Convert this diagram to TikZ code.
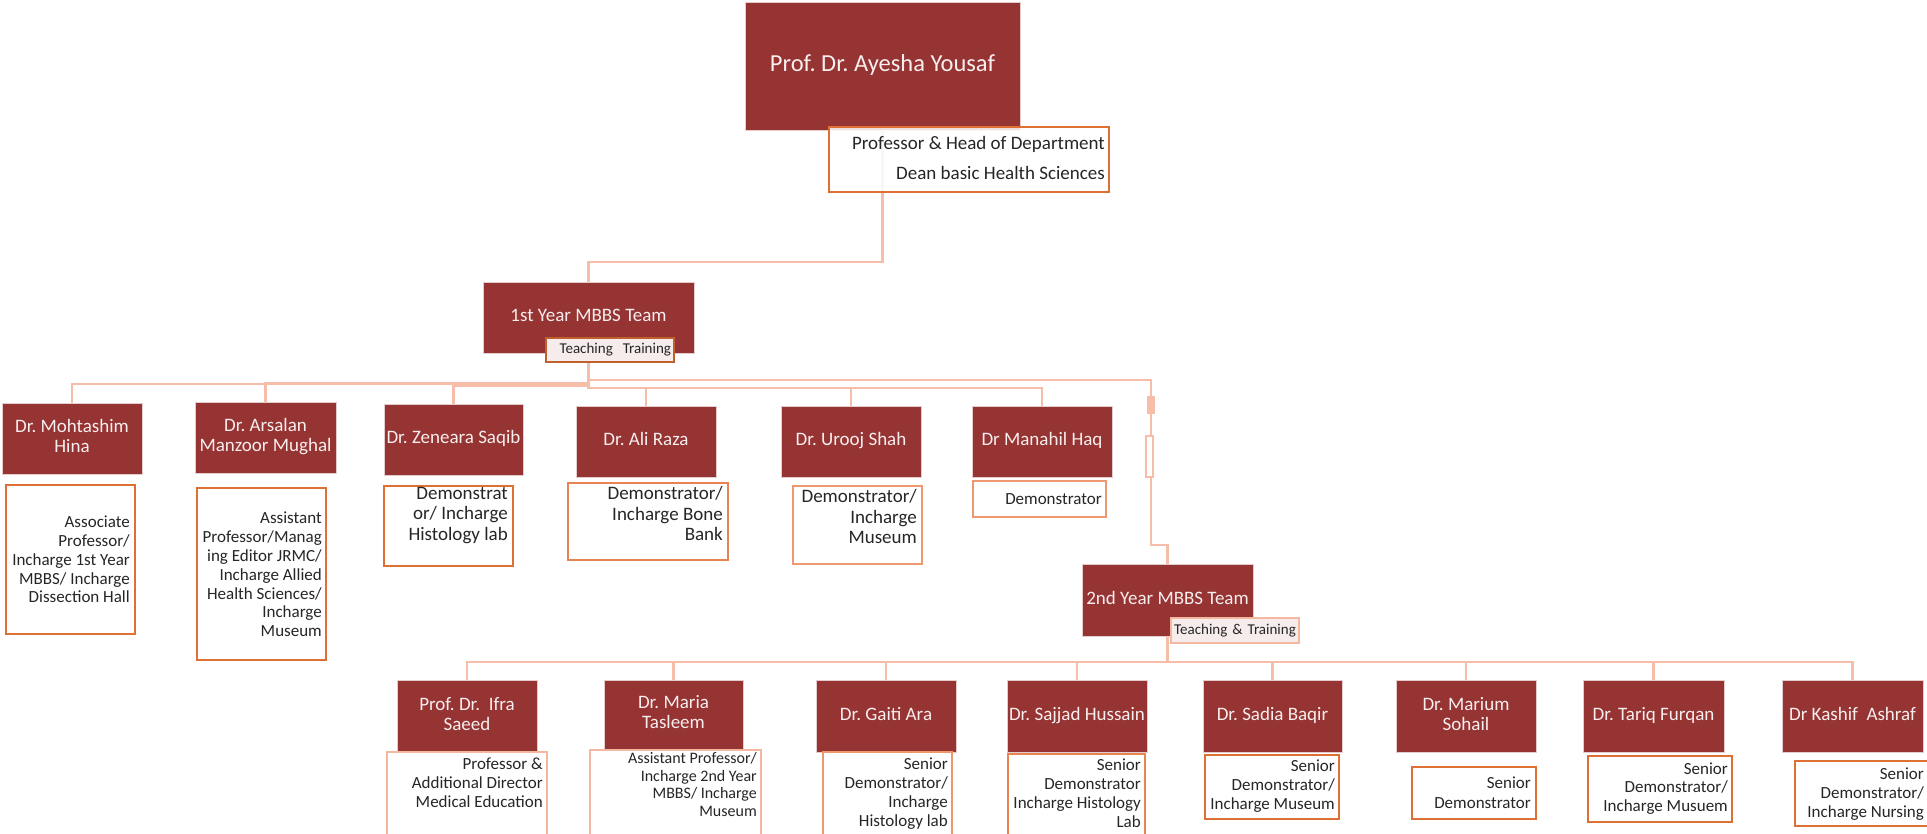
\documentclass[tikz,border=0pt]{standalone}
\usepackage{fontspec}
\setmainfont{Carlito}
\frenchspacing
\pgfdeclarelayer{bg}
\pgfsetlayers{bg,main}
\definecolor{boxred}{RGB}{150,51,51}
\definecolor{nametext}{RGB}{248,238,238}
\definecolor{dtext}{RGB}{38,38,38}
\definecolor{connc}{RGB}{246,190,168}
\definecolor{orA}{RGB}{222,112,52}
\definecolor{orB}{RGB}{232,132,82}
\definecolor{orC}{RGB}{238,152,112}
\definecolor{orD}{RGB}{244,184,160}
\definecolor{brn}{RGB}{192,96,44}
\definecolor{ttfill}{RGB}{246,236,236}
\tikzset{
 namebox/.style={fill=boxred, draw=boxred!25!white, line width=0.6pt, text=nametext, align=center, inner sep=0pt, font=\fontsize{19}{20}\selectfont},
 descbox/.style={fill=white, line width=2.4pt, inner sep=0pt},
 desctext/.style={text=dtext, align=right, inner sep=0pt, anchor=east},
 ttbox/.style={fill=ttfill, line width=2pt, inner xsep=3pt, inner ysep=0pt, text width=122pt, text=dtext, font=\fontsize{15}{17}\selectfont},
 link/.style={draw=connc, line width=2.2pt},
}
% name box: name, x1, y1, x2, y2, raise, text
\newcommand\NameBox[7]{%
 \node[namebox, minimum width={(#4)-(#2)}, minimum height={(#5)-(#3)}] (#1) at ({(#2+#4)/2},{(#3+#5)/2}) {\raisebox{#6pt}{\begin{tabular}{@{}c@{}}#7\end{tabular}}};}
\newcommand\DescBox[9]{%
 \node[descbox, draw=#6, minimum width={(#4)-(#2)}, minimum height={(#5)-(#3)}] (#1) at ({(#2+#4)/2},{(#3+#5)/2}) {};
 \node[desctext, font=#8] (#1t) at (#7) {#9};}
\begin{document}
\begin{tikzpicture}[x=1pt,y=-1pt]
\useasboundingbox (0,0) rectangle (1927,833);
\clip (0,0) rectangle (1927,833);

% top
\NameBox{top}{745}{2}{1020}{130}{5}{\fontsize{24.5}{29}\selectfont Prof. Dr. Ayesha Yousaf}
\node[descbox, draw=orA, fill opacity=0.85, minimum width=280, minimum height=65] (topd) at (969,159.5) {};
\node[desctext, font=\fontsize{19}{30}\selectfont] (topdt) at (1105,158) {Professor \& Head of Department\\Dean basic Health Sciences};

% 1st year team
\NameBox{yone}{483}{282}{694}{353}{3}{1st Year MBBS Team}
\node[ttbox, draw=brn, align=right, minimum height=24] (ttone) at (610,350) {Teaching\ \ Training};

% row 1
\NameBox{moh}{2}{403}{142}{474}{5}{Dr. Mohtashim\\Hina}
\NameBox{ars}{195}{402}{336}{473}{5}{Dr. Arsalan\\Manzoor Mughal}
\NameBox{zen}{384}{404}{523}{475}{1}{Dr. Zeneara Saqib}
\NameBox{ali}{576}{406}{716}{477}{1}{Dr. Ali Raza}
\NameBox{uro}{781}{406}{921}{477}{1}{Dr. Urooj Shah}
\NameBox{man}{972}{406}{1112}{477}{1}{Dr Manahil Haq}

\DescBox{mohd}{6}{485}{135}{634}{orA}{130,559.5}{\fontsize{17}{18.75}\selectfont}{Associate\\Professor/\\Incharge 1st Year\\MBBS/ Incharge\\Dissection Hall}
\DescBox{arsd}{197}{488}{326}{660}{orA}{322,574.5}{\fontsize{17}{18.8}\selectfont}{Assistant\\Professor/Manag\\ing Editor JRMC/\\Incharge Allied\\Health Sciences/\\Incharge\\Museum}
\DescBox{zend}{384}{486}{513}{566}{orA}{508,515.5}{\fontsize{19}{20.5}\selectfont}{Demonstrat\\or/ Incharge\\Histology lab}
\DescBox{alid}{568}{483}{728}{560}{orB}{723,513.5}{\fontsize{19}{20.5}\selectfont}{Demonstrator/\\Incharge Bone\\Bank}
\DescBox{urod}{793}{486}{922}{564}{orC}{917,516.5}{\fontsize{19}{20.5}\selectfont}{Demonstrator/\\Incharge\\Museum}
\DescBox{mand}{973}{481}{1106}{517}{orC}{1102,499}{\fontsize{17}{19}\selectfont}{Demonstrator}

% 2nd year team
\NameBox{ytwo}{1082}{564}{1253}{636}{3}{2nd Year MBBS Team}
\node[ttbox, draw=orD, align=center, minimum height=25] (tttwo) at (1235,630.5) {Teaching \& Training};

% row 2
\NameBox{ifr}{397}{680}{537}{752}{3}{Prof. Dr.\ \ Ifra\\Saeed}
\NameBox{mar}{604}{680}{743}{749}{3}{Dr. Maria\\Tasleem}
\NameBox{gai}{816}{680}{956}{752}{3}{Dr. Gaiti Ara}
\NameBox{saj}{1007}{680}{1147}{752}{3}{Dr. Sajjad Hussain}
\NameBox{sad}{1203}{680}{1342}{752}{3}{Dr. Sadia Baqir}
\NameBox{mri}{1396}{680}{1536}{752}{3}{Dr. Marium\\Sohail}
\NameBox{tar}{1583}{680}{1724}{752}{3}{Dr. Tariq Furqan}
\NameBox{kas}{1782}{680}{1923}{752}{3}{Dr Kashif\ \ Ashraf}

\DescBox{ifrd}{387}{752}{547}{850}{orD}{543,782.5}{\fontsize{17}{18.8}\selectfont}{Professor \&\\Additional Director\\Medical Education}
\DescBox{mard}{590}{750}{761}{850}{orD}{757,784.5}{\fontsize{16}{17.8}\selectfont}{Assistant Professor/\\Incharge 2nd Year\\MBBS/ Incharge\\Museum}
\DescBox{gaid}{823}{752}{952}{850}{orC}{948,793.5}{\fontsize{17}{19.1}\selectfont}{Senior\\Demonstrator/\\Incharge\\Histology lab}
\DescBox{sajd}{1008}{754}{1145}{850}{orB}{1141,793.5}{\fontsize{17}{19.1}\selectfont}{Senior\\Demonstrator\\Incharge Histology\\Lab}
\DescBox{sadd}{1205}{755}{1339}{819}{orA}{1335,786}{\fontsize{17}{19}\selectfont}{Senior\\Demonstrator/\\Incharge Museum}
\DescBox{mrid}{1412}{767}{1536}{819}{orA}{1531,793}{\fontsize{17}{20}\selectfont}{Senior\\Demonstrator}
\DescBox{tard}{1588}{756}{1732}{822}{orA}{1728,788.5}{\fontsize{17}{18.5}\selectfont}{Senior\\Demonstrator/\\Incharge Musuem}
\DescBox{kasd}{1795}{761}{1934}{826}{orA}{1924,794}{\fontsize{17}{19}\selectfont}{Senior\\Demonstrator/\\Incharge Nursing}

\coordinate (jtwo) at (1151,545);

\begin{pgfonlayer}{bg}
\fill[white] (0,0) rectangle (1927,833);
\draw[link] (top.south) -- ++(0,132) -| (yone.north);
\draw[link] (yone.south) -- ++(0,31) -| (moh.north);
\draw[link] (yone.south) -- ++(0,30) -| (ars.north);
\draw[link] (yone.south) -- ++(0,33) -| (zen.north);
\draw[link] (yone.south) -- ++(0,35) -| (ali.north);
\draw[link] (yone.south) -- ++(0,35) -| (uro.north);
\draw[link] (yone.south) -- ++(0,35) -| (man.north);
\draw[link] (yone.south) -- ++(0,27) -| (jtwo) -| (ytwo.north);
\draw[link] (ytwo.south) -- ++(0,26) -| (ifr.north);
\draw[link] (ytwo.south) -- ++(0,26) -| (mar.north);
\draw[link] (ytwo.south) -- ++(0,26) -| (gai.north);
\draw[link] (ytwo.south) -- ++(0,26) -| (saj.north);
\draw[link] (ytwo.south) -- ++(0,26) -| (sad.north);
\draw[link] (ytwo.south) -- ++(0,26) -| (mri.north);
\draw[link] (ytwo.south) -- ++(0,26) -| (tar.north);
\draw[link] (ytwo.south) -- ++(0,26) -| (kas.north);
\end{pgfonlayer}
% small marks on the 2nd-year connector
\draw[draw=connc, fill=connc, line width=1.2pt] (1148,397) rectangle (1154,413);
\draw[draw=connc, fill=white, line width=1.8pt] (1146,436) rectangle (1153,477);
\end{tikzpicture}
\end{document}
